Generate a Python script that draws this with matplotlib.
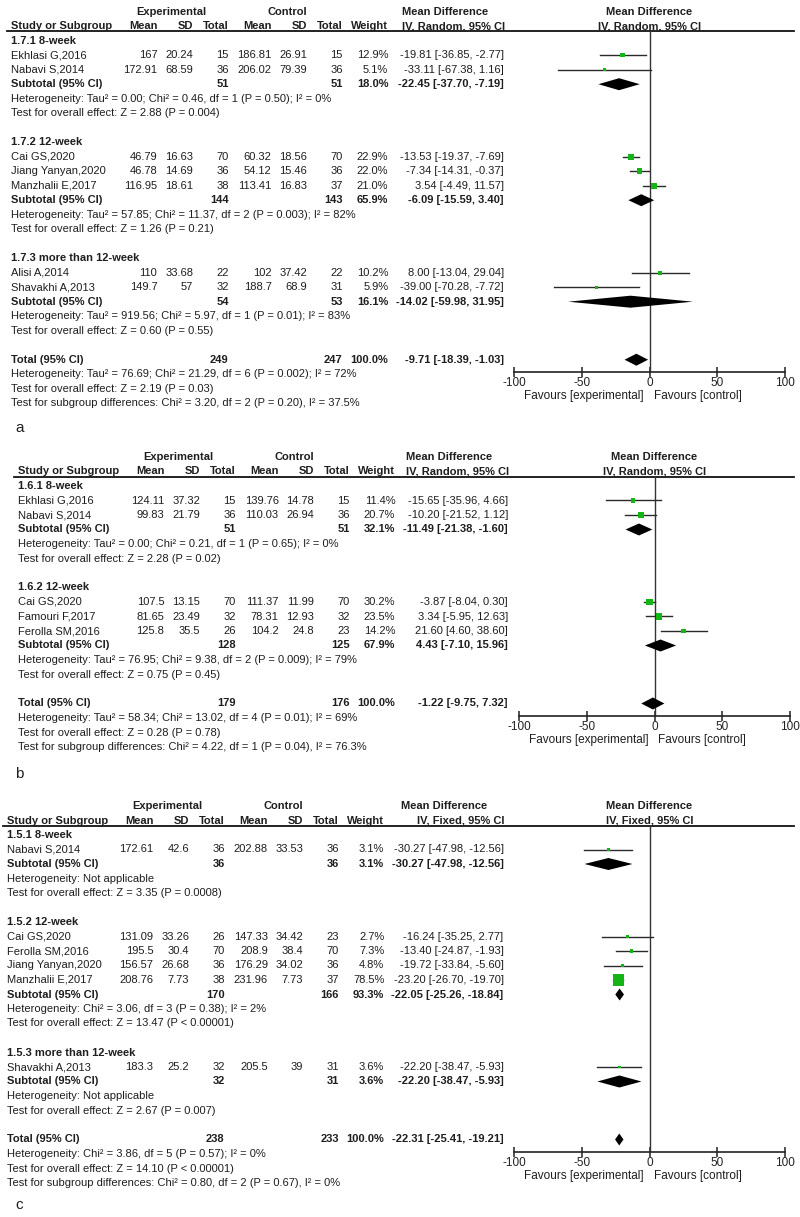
import numpy as np
import matplotlib.pyplot as plt

plt.rcParams['font.family'] = ['Liberation Sans', 'DejaVu Sans']
plt.rcParams['font.size'] = 8

W, H = 800, 1217
PITCH = 14.5
TXT = '#1e1e1e'
GREEN = '#14b414'

# ---------- panel a (1.7, random effects) ----------
a_groups = ['1.7.1 8-week', '1.7.2 12-week', '1.7.3 more than 12-week']
a_group_of = [0, 0, 1, 1, 1, 2, 2]
a_study = ['Ekhlasi G,2016', 'Nabavi S,2014', 'Cai GS,2020', 'Jiang Yanyan,2020',
           'Manzhalii E,2017', 'Alisi A,2014', 'Shavakhi A,2013']
a_exp_mean = [167, 172.91, 46.79, 46.78, 116.95, 110, 149.7]
a_exp_sd = [20.24, 68.59, 16.63, 14.69, 18.61, 33.68, 57]
a_exp_n = [15, 36, 70, 36, 38, 22, 32]
a_ctl_mean = [186.81, 206.02, 60.32, 54.12, 113.41, 102, 188.7]
a_ctl_sd = [26.91, 79.39, 18.56, 15.46, 16.83, 37.42, 68.9]
a_ctl_n = [15, 36, 70, 36, 37, 22, 31]
a_weight = [12.9, 5.1, 22.9, 22.0, 21.0, 10.2, 5.9]
a_md = [-19.81, -33.11, -13.53, -7.34, 3.54, 8.00, -39.00]
a_lo = [-36.85, -67.38, -19.37, -14.31, -4.49, -13.04, -70.28]
a_hi = [-2.77, 1.16, -7.69, -0.37, 11.57, 29.04, -7.72]
a_sub_exp_n = [51, 144, 54]
a_sub_ctl_n = [51, 143, 53]
a_sub_weight = [18.0, 65.9, 16.1]
a_sub_md = [-22.45, -6.09, -14.02]
a_sub_lo = [-37.70, -15.59, -59.98]
a_sub_hi = [-7.19, 3.40, 31.95]
a_sub_het = ['Heterogeneity: Tau² = 0.00; Chi² = 0.46, df = 1 (P = 0.50); I² = 0%',
             'Heterogeneity: Tau² = 57.85; Chi² = 11.37, df = 2 (P = 0.003); I² = 82%',
             'Heterogeneity: Tau² = 919.56; Chi² = 5.97, df = 1 (P = 0.01); I² = 83%']
a_sub_test = ['Test for overall effect: Z = 2.88 (P = 0.004)',
              'Test for overall effect: Z = 1.26 (P = 0.21)',
              'Test for overall effect: Z = 0.60 (P = 0.55)']
a_tot_n = [249, 247]
a_tot_weight = 100.0
a_tot_ci = [-9.71, -18.39, -1.03]
a_tot_notes = ['Heterogeneity: Tau² = 76.69; Chi² = 21.29, df = 6 (P = 0.002); I² = 72%',
               'Test for overall effect: Z = 2.19 (P = 0.03)',
               'Test for subgroup differences: Chi² = 3.20, df = 2 (P = 0.20), I² = 37.5%']

# ---------- panel b (1.6, random effects) ----------
b_groups = ['1.6.1 8-week', '1.6.2 12-week']
b_group_of = [0, 0, 1, 1, 1]
b_study = ['Ekhlasi G,2016', 'Nabavi S,2014', 'Cai GS,2020', 'Famouri F,2017', 'Ferolla SM,2016']
b_exp_mean = [124.11, 99.83, 107.5, 81.65, 125.8]
b_exp_sd = [37.32, 21.79, 13.15, 23.49, 35.5]
b_exp_n = [15, 36, 70, 32, 26]
b_ctl_mean = [139.76, 110.03, 111.37, 78.31, 104.2]
b_ctl_sd = [14.78, 26.94, 11.99, 12.93, 24.8]
b_ctl_n = [15, 36, 70, 32, 23]
b_weight = [11.4, 20.7, 30.2, 23.5, 14.2]
b_md = [-15.65, -10.20, -3.87, 3.34, 21.60]
b_lo = [-35.96, -21.52, -8.04, -5.95, 4.60]
b_hi = [4.66, 1.12, 0.30, 12.63, 38.60]
b_sub_exp_n = [51, 128]
b_sub_ctl_n = [51, 125]
b_sub_weight = [32.1, 67.9]
b_sub_md = [-11.49, 4.43]
b_sub_lo = [-21.38, -7.10]
b_sub_hi = [-1.60, 15.96]
b_sub_het = ['Heterogeneity: Tau² = 0.00; Chi² = 0.21, df = 1 (P = 0.65); I² = 0%',
             'Heterogeneity: Tau² = 76.95; Chi² = 9.38, df = 2 (P = 0.009); I² = 79%']
b_sub_test = ['Test for overall effect: Z = 2.28 (P = 0.02)',
              'Test for overall effect: Z = 0.75 (P = 0.45)']
b_tot_n = [179, 176]
b_tot_weight = 100.0
b_tot_ci = [-1.22, -9.75, 7.32]
b_tot_notes = ['Heterogeneity: Tau² = 58.34; Chi² = 13.02, df = 4 (P = 0.01); I² = 69%',
               'Test for overall effect: Z = 0.28 (P = 0.78)',
               'Test for subgroup differences: Chi² = 4.22, df = 1 (P = 0.04), I² = 76.3%']

# ---------- panel c (1.5, fixed effect) ----------
c_groups = ['1.5.1 8-week', '1.5.2 12-week', '1.5.3 more than 12-week']
c_group_of = [0, 1, 1, 1, 1, 2]
c_study = ['Nabavi S,2014', 'Cai GS,2020', 'Ferolla SM,2016', 'Jiang Yanyan,2020',
           'Manzhalii E,2017', 'Shavakhi A,2013']
c_exp_mean = [172.61, 131.09, 195.5, 156.57, 208.76, 183.3]
c_exp_sd = [42.6, 33.26, 30.4, 26.68, 7.73, 25.2]
c_exp_n = [36, 26, 70, 36, 38, 32]
c_ctl_mean = [202.88, 147.33, 208.9, 176.29, 231.96, 205.5]
c_ctl_sd = [33.53, 34.42, 38.4, 34.02, 7.73, 39]
c_ctl_n = [36, 23, 70, 36, 37, 31]
c_weight = [3.1, 2.7, 7.3, 4.8, 78.5, 3.6]
c_md = [-30.27, -16.24, -13.40, -19.72, -23.20, -22.20]
c_lo = [-47.98, -35.25, -24.87, -33.84, -26.70, -38.47]
c_hi = [-12.56, 2.77, -1.93, -5.60, -19.70, -5.93]
c_sub_exp_n = [36, 170, 32]
c_sub_ctl_n = [36, 166, 31]
c_sub_weight = [3.1, 93.3, 3.6]
c_sub_md = [-30.27, -22.05, -22.20]
c_sub_lo = [-47.98, -25.26, -38.47]
c_sub_hi = [-12.56, -18.84, -5.93]
c_sub_het = ['Heterogeneity: Not applicable',
             'Heterogeneity: Chi² = 3.06, df = 3 (P = 0.38); I² = 2%',
             'Heterogeneity: Not applicable']
c_sub_test = ['Test for overall effect: Z = 3.35 (P = 0.0008)',
              'Test for overall effect: Z = 13.47 (P < 0.00001)',
              'Test for overall effect: Z = 2.67 (P = 0.007)']
c_tot_n = [238, 233]
c_tot_weight = 100.0
c_tot_ci = [-22.31, -25.41, -19.21]
c_tot_notes = ['Heterogeneity: Chi² = 3.86, df = 5 (P = 0.57); I² = 0%',
               'Test for overall effect: Z = 14.10 (P < 0.00001)',
               'Test for subgroup differences: Chi² = 0.80, df = 2 (P = 0.67), I² = 0%']

fig = plt.figure(figsize=(8, 12.17), dpi=100)
bg = fig.add_axes([0, 0, 1, 1])
bg.set_xlim(0, W)
bg.set_ylim(H, 0)
bg.axis('off')


def t(x, y, s, ha='left', bold=False, **kw):
    bg.text(x, y, s, ha=ha, va='center', color=TXT,
            fontweight='bold' if bold else 'normal', **kw)


def ci_txt(md, lo, hi):
    return f'{md:.2f} [{lo:.2f}, {hi:.2f}]'


def draw_panel(p, y0, dx, px_l, px_r, ci_x, model, letter, letter_y):
    xs = 11 + dx
    cols = [157.3 + dx, 193.3 + dx, 228.7 + dx, 271.7 + dx, 307.3 + dx, 342.7 + dx, 388.3 + dx]
    zero = (px_l + px_r) / 2

    # header
    yh1, yh2, yline = y0 - 29, y0 - 14.5, y0 - 9.5
    t(171 + dx, yh1, 'Experimental', 'center', True)
    t(287 + dx, yh1, 'Control', 'center', True)
    t(ci_x - 16, yh1, 'Mean Difference', 'right', True)
    t(zero, yh1, 'Mean Difference', 'center', True)
    t(xs, yh2, 'Study or Subgroup', bold=True)
    for c, s in zip(cols, ['Mean', 'SD', 'Total', 'Mean', 'SD', 'Total', 'Weight']):
        t(c, yh2, s, 'right', True)
    t(ci_x + 1, yh2, f'IV, {model}, 95% CI', 'right', True)
    t(zero, yh2, f'IV, {model}, 95% CI', 'center', True)
    bg.plot([xs - 4, 794], [yline, yline], color='#111111', lw=1.3)

    # lay out rows
    study_rows, sub_rows = [], []
    y = y0
    for g, name in enumerate(p['groups']):
        t(xs, y, name, bold=True)
        y += PITCH
        for i in [k for k, gg in enumerate(p['group_of']) if gg == g]:
            t(xs, y, p['study'][i])
            vals = [p['exp_mean'][i], p['exp_sd'][i], p['exp_n'][i],
                    p['ctl_mean'][i], p['ctl_sd'][i], p['ctl_n'][i]]
            for c, v in zip(cols[:6], vals):
                t(c, y, f'{v:g}', 'right')
            t(cols[6], y, f"{p['weight'][i]:.1f}%", 'right')
            t(ci_x, y, ci_txt(p['md'][i], p['lo'][i], p['hi'][i]), 'right')
            study_rows.append((i, y))
            y += PITCH
        t(xs, y, 'Subtotal (95% CI)', bold=True)
        t(cols[2], y, str(p['sub_exp_n'][g]), 'right', True)
        t(cols[5], y, str(p['sub_ctl_n'][g]), 'right', True)
        t(cols[6], y, f"{p['sub_weight'][g]:.1f}%", 'right', True)
        t(ci_x, y, ci_txt(p['sub_md'][g], p['sub_lo'][g], p['sub_hi'][g]), 'right', True)
        sub_rows.append((p['sub_md'][g], p['sub_lo'][g], p['sub_hi'][g], y))
        y += PITCH
        t(xs, y, p['sub_het'][g])
        y += PITCH
        t(xs, y, p['sub_test'][g])
        y += 2 * PITCH
    ytot = y
    t(xs, ytot, 'Total (95% CI)', bold=True)
    t(cols[2], ytot, str(p['tot_n'][0]), 'right', True)
    t(cols[5], ytot, str(p['tot_n'][1]), 'right', True)
    t(cols[6], ytot, f"{p['tot_weight']:.1f}%", 'right', True)
    t(ci_x, ytot, ci_txt(*p['tot_ci']), 'right', True)
    sub_rows.append((*p['tot_ci'], ytot))
    for k, note in enumerate(p['tot_notes']):
        t(xs, ytot + (k + 1) * PITCH, note)

    # forest plot
    yaxis = ytot + 12.5
    ax = fig.add_axes([px_l / W, 1 - yaxis / H, (px_r - px_l) / W, (yaxis - yline) / H])
    ax.set_xlim(-100, 100)
    ax.set_ylim(yaxis, yline)
    ax.patch.set_alpha(0)
    for s in ['top', 'left', 'right']:
        ax.spines[s].set_visible(False)
    ax.spines['bottom'].set_color('#222222')
    ax.spines['bottom'].set_linewidth(1.2)
    ax.set_yticks([])
    ax.set_xticks([-100, -50, 0, 50, 100])
    ax.set_xticklabels(['-100', '-50', '0', '50', '100'])
    ax.tick_params(axis='x', direction='inout', length=7, width=1.1, pad=0,
                   labelsize=8.5, colors='#222222')
    ax.axvline(0, color='#333333', lw=1)
    for i, yy in study_rows:
        ax.plot([p['lo'][i], p['hi'][i]], [yy, yy], color='#2a2a2a', lw=1, zorder=2)
        side = max(2.0, 12.5 * np.sqrt(p['weight'][i] / 100.0)) * 0.72
        ax.scatter([p['md'][i]], [yy], marker='s', s=side ** 2, color=GREEN,
                   edgecolors='none', zorder=3)
    for md, lo, hi, yy in sub_rows:
        ax.fill([lo, md, hi, md], [yy, yy - 6, yy, yy + 6], color='black', zorder=3, lw=0)

    t(zero - 6, yaxis + 24, 'Favours [experimental]', 'right', fontsize=8.5)
    t(zero + 4, yaxis + 24, 'Favours [control]', fontsize=8.5)
    t(15, letter_y, letter, fontsize=11)


panel_a = dict(groups=a_groups, group_of=a_group_of, study=a_study, exp_mean=a_exp_mean,
               exp_sd=a_exp_sd, exp_n=a_exp_n, ctl_mean=a_ctl_mean, ctl_sd=a_ctl_sd,
               ctl_n=a_ctl_n, weight=a_weight, md=a_md, lo=a_lo, hi=a_hi,
               sub_exp_n=a_sub_exp_n, sub_ctl_n=a_sub_ctl_n, sub_weight=a_sub_weight,
               sub_md=a_sub_md, sub_lo=a_sub_lo, sub_hi=a_sub_hi, sub_het=a_sub_het,
               sub_test=a_sub_test, tot_n=a_tot_n, tot_weight=a_tot_weight,
               tot_ci=a_tot_ci, tot_notes=a_tot_notes)
panel_b = dict(groups=b_groups, group_of=b_group_of, study=b_study, exp_mean=b_exp_mean,
               exp_sd=b_exp_sd, exp_n=b_exp_n, ctl_mean=b_ctl_mean, ctl_sd=b_ctl_sd,
               ctl_n=b_ctl_n, weight=b_weight, md=b_md, lo=b_lo, hi=b_hi,
               sub_exp_n=b_sub_exp_n, sub_ctl_n=b_sub_ctl_n, sub_weight=b_sub_weight,
               sub_md=b_sub_md, sub_lo=b_sub_lo, sub_hi=b_sub_hi, sub_het=b_sub_het,
               sub_test=b_sub_test, tot_n=b_tot_n, tot_weight=b_tot_weight,
               tot_ci=b_tot_ci, tot_notes=b_tot_notes)
panel_c = dict(groups=c_groups, group_of=c_group_of, study=c_study, exp_mean=c_exp_mean,
               exp_sd=c_exp_sd, exp_n=c_exp_n, ctl_mean=c_ctl_mean, ctl_sd=c_ctl_sd,
               ctl_n=c_ctl_n, weight=c_weight, md=c_md, lo=c_lo, hi=c_hi,
               sub_exp_n=c_sub_exp_n, sub_ctl_n=c_sub_ctl_n, sub_weight=c_sub_weight,
               sub_md=c_sub_md, sub_lo=c_sub_lo, sub_hi=c_sub_hi, sub_het=c_sub_het,
               sub_test=c_sub_test, tot_n=c_tot_n, tot_weight=c_tot_weight,
               tot_ci=c_tot_ci, tot_notes=c_tot_notes)

draw_panel(panel_a, 40.7, 0, 514, 785, 504, 'Random', 'a', 428)
draw_panel(panel_b, 486, 7, 519, 790, 508, 'Random', 'b', 774)
draw_panel(panel_c, 835, -4, 514, 785, 503.5, 'Fixed', 'c', 1205)

fig.savefig('out.png', dpi=100, facecolor='white')
